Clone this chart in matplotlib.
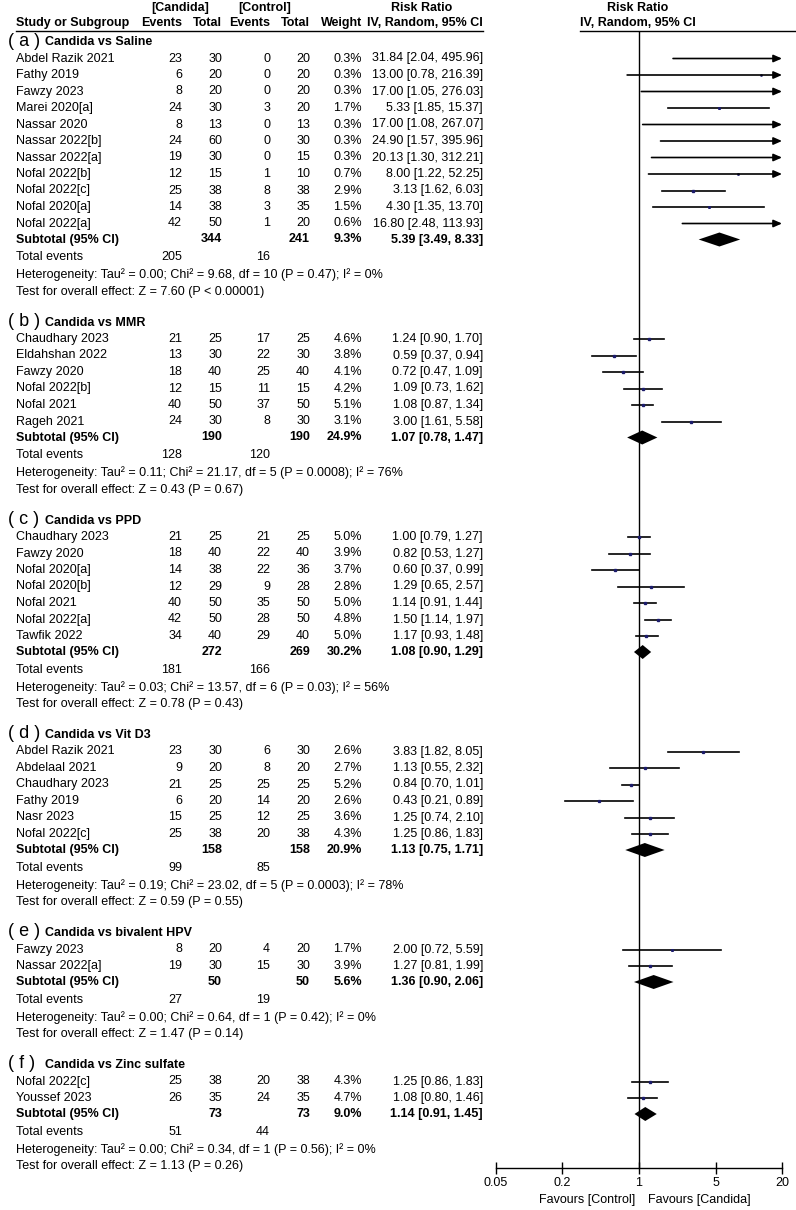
import numpy as np
import matplotlib.pyplot as plt
from matplotlib.ticker import NullLocator

plt.rcParams['font.family'] = ['Liberation Sans', 'DejaVu Sans']

# ---- data ----
group_tag = ["a", "b", "c", "d", "e", "f"]
group_title = ["Candida vs Saline", "Candida vs MMR", "Candida vs PPD",
               "Candida vs Vit D3", "Candida vs bivalent HPV", "Candida vs Zinc sulfate"]

study = ["Abdel Razik 2021", "Fathy 2019", "Fawzy 2023", "Marei 2020[a]", "Nassar 2020",
         "Nassar 2022[b]", "Nassar 2022[a]", "Nofal 2022[b]", "Nofal 2022[c]", "Nofal 2020[a]",
         "Nofal 2022[a]",
         "Chaudhary 2023", "Eldahshan 2022", "Fawzy 2020", "Nofal 2022[b]", "Nofal 2021", "Rageh 2021",
         "Chaudhary 2023", "Fawzy 2020", "Nofal 2020[a]", "Nofal 2020[b]", "Nofal 2021",
         "Nofal 2022[a]", "Tawfik 2022",
         "Abdel Razik 2021", "Abdelaal 2021", "Chaudhary 2023", "Fathy 2019", "Nasr 2023",
         "Nofal 2022[c]",
         "Fawzy 2023", "Nassar 2022[a]",
         "Nofal 2022[c]", "Youssef 2023"]
grp = [0] * 11 + [1] * 6 + [2] * 7 + [3] * 6 + [4] * 2 + [5] * 2
cand_ev = [23, 6, 8, 24, 8, 24, 19, 12, 25, 14, 42,
           21, 13, 18, 12, 40, 24,
           21, 18, 14, 12, 40, 42, 34,
           23, 9, 21, 6, 15, 25,
           8, 19,
           25, 26]
cand_n = [30, 20, 20, 30, 13, 60, 30, 15, 38, 38, 50,
          25, 30, 40, 15, 50, 30,
          25, 40, 38, 29, 50, 50, 40,
          30, 20, 25, 20, 25, 38,
          20, 30,
          38, 35]
ctrl_ev = [0, 0, 0, 3, 0, 0, 0, 1, 8, 3, 1,
           17, 22, 25, 11, 37, 8,
           21, 22, 22, 9, 35, 28, 29,
           6, 8, 25, 14, 12, 20,
           4, 15,
           20, 24]
ctrl_n = [20, 20, 20, 20, 13, 30, 15, 10, 38, 35, 20,
          25, 30, 40, 15, 50, 30,
          25, 40, 36, 28, 50, 50, 40,
          30, 20, 25, 20, 25, 38,
          20, 30,
          38, 35]
weight = [0.3, 0.3, 0.3, 1.7, 0.3, 0.3, 0.3, 0.7, 2.9, 1.5, 0.6,
          4.6, 3.8, 4.1, 4.2, 5.1, 3.1,
          5.0, 3.9, 3.7, 2.8, 5.0, 4.8, 5.0,
          2.6, 2.7, 5.2, 2.6, 3.6, 4.3,
          1.7, 3.9,
          4.3, 4.7]
rr = [31.84, 13.00, 17.00, 5.33, 17.00, 24.90, 20.13, 8.00, 3.13, 4.30, 16.80,
      1.24, 0.59, 0.72, 1.09, 1.08, 3.00,
      1.00, 0.82, 0.60, 1.29, 1.14, 1.50, 1.17,
      3.83, 1.13, 0.84, 0.43, 1.25, 1.25,
      2.00, 1.27,
      1.25, 1.08]
rr_lo = [2.04, 0.78, 1.05, 1.85, 1.08, 1.57, 1.30, 1.22, 1.62, 1.35, 2.48,
         0.90, 0.37, 0.47, 0.73, 0.87, 1.61,
         0.79, 0.53, 0.37, 0.65, 0.91, 1.14, 0.93,
         1.82, 0.55, 0.70, 0.21, 0.74, 0.86,
         0.72, 0.81,
         0.86, 0.80]
rr_hi = [495.96, 216.39, 276.03, 15.37, 267.07, 395.96, 312.21, 52.25, 6.03, 13.70, 113.93,
         1.70, 0.94, 1.09, 1.62, 1.34, 5.58,
         1.27, 1.27, 0.99, 2.57, 1.44, 1.97, 1.48,
         8.05, 2.32, 1.01, 0.89, 2.10, 1.83,
         5.59, 1.99,
         1.83, 1.46]

sub_n_cand = [344, 190, 272, 158, 50, 73]
sub_n_ctrl = [241, 190, 269, 158, 50, 73]
sub_weight = [9.3, 24.9, 30.2, 20.9, 5.6, 9.0]
sub_rr = [5.39, 1.07, 1.08, 1.13, 1.36, 1.14]
sub_lo = [3.49, 0.78, 0.90, 0.75, 0.90, 0.91]
sub_hi = [8.33, 1.47, 1.29, 1.71, 2.06, 1.45]
tot_ev_cand = [205, 128, 181, 99, 27, 51]
tot_ev_ctrl = [16, 120, 166, 85, 19, 44]
tau2 = ["0.00", "0.11", "0.03", "0.19", "0.00", "0.00"]
chi2 = ["9.68", "21.17", "13.57", "23.02", "0.64", "0.34"]
het_df = [10, 5, 6, 5, 1, 1]
het_p = ["0.47", "0.0008", "0.03", "0.0003", "0.42", "0.56"]
i2 = [0, 76, 56, 78, 0, 0]
z_val = ["7.60", "0.43", "0.78", "0.59", "1.47", "1.13"]
z_p = ["< 0.00001", "= 0.67", "= 0.43", "= 0.55", "= 0.14", "= 0.26"]

ticks = [0.05, 0.2, 1, 5, 20]
tick_labels = ["0.05", "0.2", "1", "5", "20"]

# ---- layout (pixels) ----
W, H = 796, 1210
FS = 9
X_NAME, X_CEV, X_CN, X_KEV, X_KN, X_W, X_RR = 16, 182, 222, 270, 310, 362, 483
Y_TOP, Y_AXIS = 31, 1168
NAVY = "#1c1c6b"

fig = plt.figure(figsize=(W / 100, H / 100), dpi=100)
bg = fig.add_axes([0, 0, 1, 1])
bg.set_xlim(0, W)
bg.set_ylim(H, 0)
bg.axis("off")

fa = fig.add_axes([496 / W, 1 - Y_AXIS / H, 286 / W, (Y_AXIS - Y_TOP) / H])
fa.patch.set_alpha(0)
fa.set_xscale("log")
fa.set_xlim(0.05, 20)
fa.set_ylim(Y_AXIS, Y_TOP)
for s in ["top", "left", "right"]:
    fa.spines[s].set_visible(False)
fa.spines["bottom"].set_linewidth(1.0)
fa.set_xticks(ticks)
fa.set_xticklabels(tick_labels, fontsize=FS)
fa.xaxis.set_minor_locator(NullLocator())
fa.set_yticks([])
fa.tick_params(axis="x", direction="inout", length=9, width=1.0, pad=2)
fa.axvline(1, color="black", lw=1.0)


def txt(x, y, s, ha="right", bold=False, size=FS):
    bg.text(x, y, s, ha=ha, va="center", fontsize=size,
            fontweight="bold" if bold else "normal")


# header
txt(180, 8, "[Candida]", ha="center", bold=True)
txt(265, 8, "[Control]", ha="center", bold=True)
txt(422, 8, "Risk Ratio", ha="center", bold=True)
txt(638, 8, "Risk Ratio", ha="center", bold=True)
txt(X_NAME, 23, "Study or Subgroup", ha="left", bold=True)
txt(X_CEV, 23, "Events", bold=True)
txt(X_CN, 23, "Total", bold=True)
txt(X_KEV, 23, "Events", bold=True)
txt(X_KN, 23, "Total", bold=True)
txt(X_W, 23, "Weight", bold=True)
txt(X_RR, 23, "IV, Random, 95% CI", bold=True)
txt(638, 23, "IV, Random, 95% CI", ha="center", bold=True)
bg.plot([X_NAME, X_RR], [Y_TOP, Y_TOP], color="black", lw=1.0)
bg.plot([580, W], [Y_TOP, Y_TOP], color="black", lw=1.0)

grp = np.array(grp)
y = 41
for g in range(len(group_title)):
    txt(8, y, "( %s )" % group_tag[g], ha="left", size=13)
    txt(45, y + 1, group_title[g], ha="left", bold=True)
    idx = np.where(grp == g)[0]
    y += 17.5
    for k, i in enumerate(idx):
        if k > 0:
            y += 16.5
        txt(X_NAME, y, study[i], ha="left")
        txt(X_CEV, y, str(cand_ev[i]))
        txt(X_CN, y, str(cand_n[i]))
        txt(X_KEV, y, str(ctrl_ev[i]))
        txt(X_KN, y, str(ctrl_n[i]))
        txt(X_W, y, "%.1f%%" % weight[i])
        txt(X_RR, y, "%.2f [%.2f, %.2f]" % (rr[i], rr_lo[i], rr_hi[i]))
        if rr_hi[i] > 20:
            fa.annotate("", xy=(20, y), xytext=(rr_lo[i], y),
                        arrowprops=dict(arrowstyle="-|>,head_length=0.5,head_width=0.22",
                                        color="black", lw=1.2, shrinkA=0, shrinkB=0))
        else:
            fa.plot([rr_lo[i], rr_hi[i]], [y, y], color="black", lw=1.2)
        if rr[i] < 20:
            fa.plot(rr[i], y, marker="s", ms=0.8 + 0.22 * weight[i], color=NAVY, lw=0)
    y += 16
    txt(X_NAME, y, "Subtotal (95% CI)", ha="left", bold=True)
    txt(X_CN, y, str(sub_n_cand[g]), bold=True)
    txt(X_KN, y, str(sub_n_ctrl[g]), bold=True)
    txt(X_W, y, "%.1f%%" % sub_weight[g], bold=True)
    txt(X_RR, y, "%.2f [%.2f, %.2f]" % (sub_rr[g], sub_lo[g], sub_hi[g]), bold=True)
    fa.fill([sub_lo[g], sub_rr[g], sub_hi[g], sub_rr[g]], [y, y - 7, y, y + 7],
            color="black", lw=0)
    y += 18
    txt(X_NAME, y, "Total events", ha="left")
    txt(X_CEV, y, str(tot_ev_cand[g]))
    txt(X_KEV, y, str(tot_ev_ctrl[g]))
    y += 17.5
    txt(X_NAME, y, "Heterogeneity: Tau\u00b2 = %s; Chi\u00b2 = %s, df = %d (P = %s); I\u00b2 = %d%%"
        % (tau2[g], chi2[g], het_df[g], het_p[g], i2[g]), ha="left")
    y += 17
    txt(X_NAME, y, "Test for overall effect: Z = %s (P %s)" % (z_val[g], z_p[g]), ha="left")
    y += 29.5

txt(635, 1200, "Favours [Control]")
txt(648, 1200, "Favours [Candida]", ha="left")

fig.savefig("out.png", dpi=100)
